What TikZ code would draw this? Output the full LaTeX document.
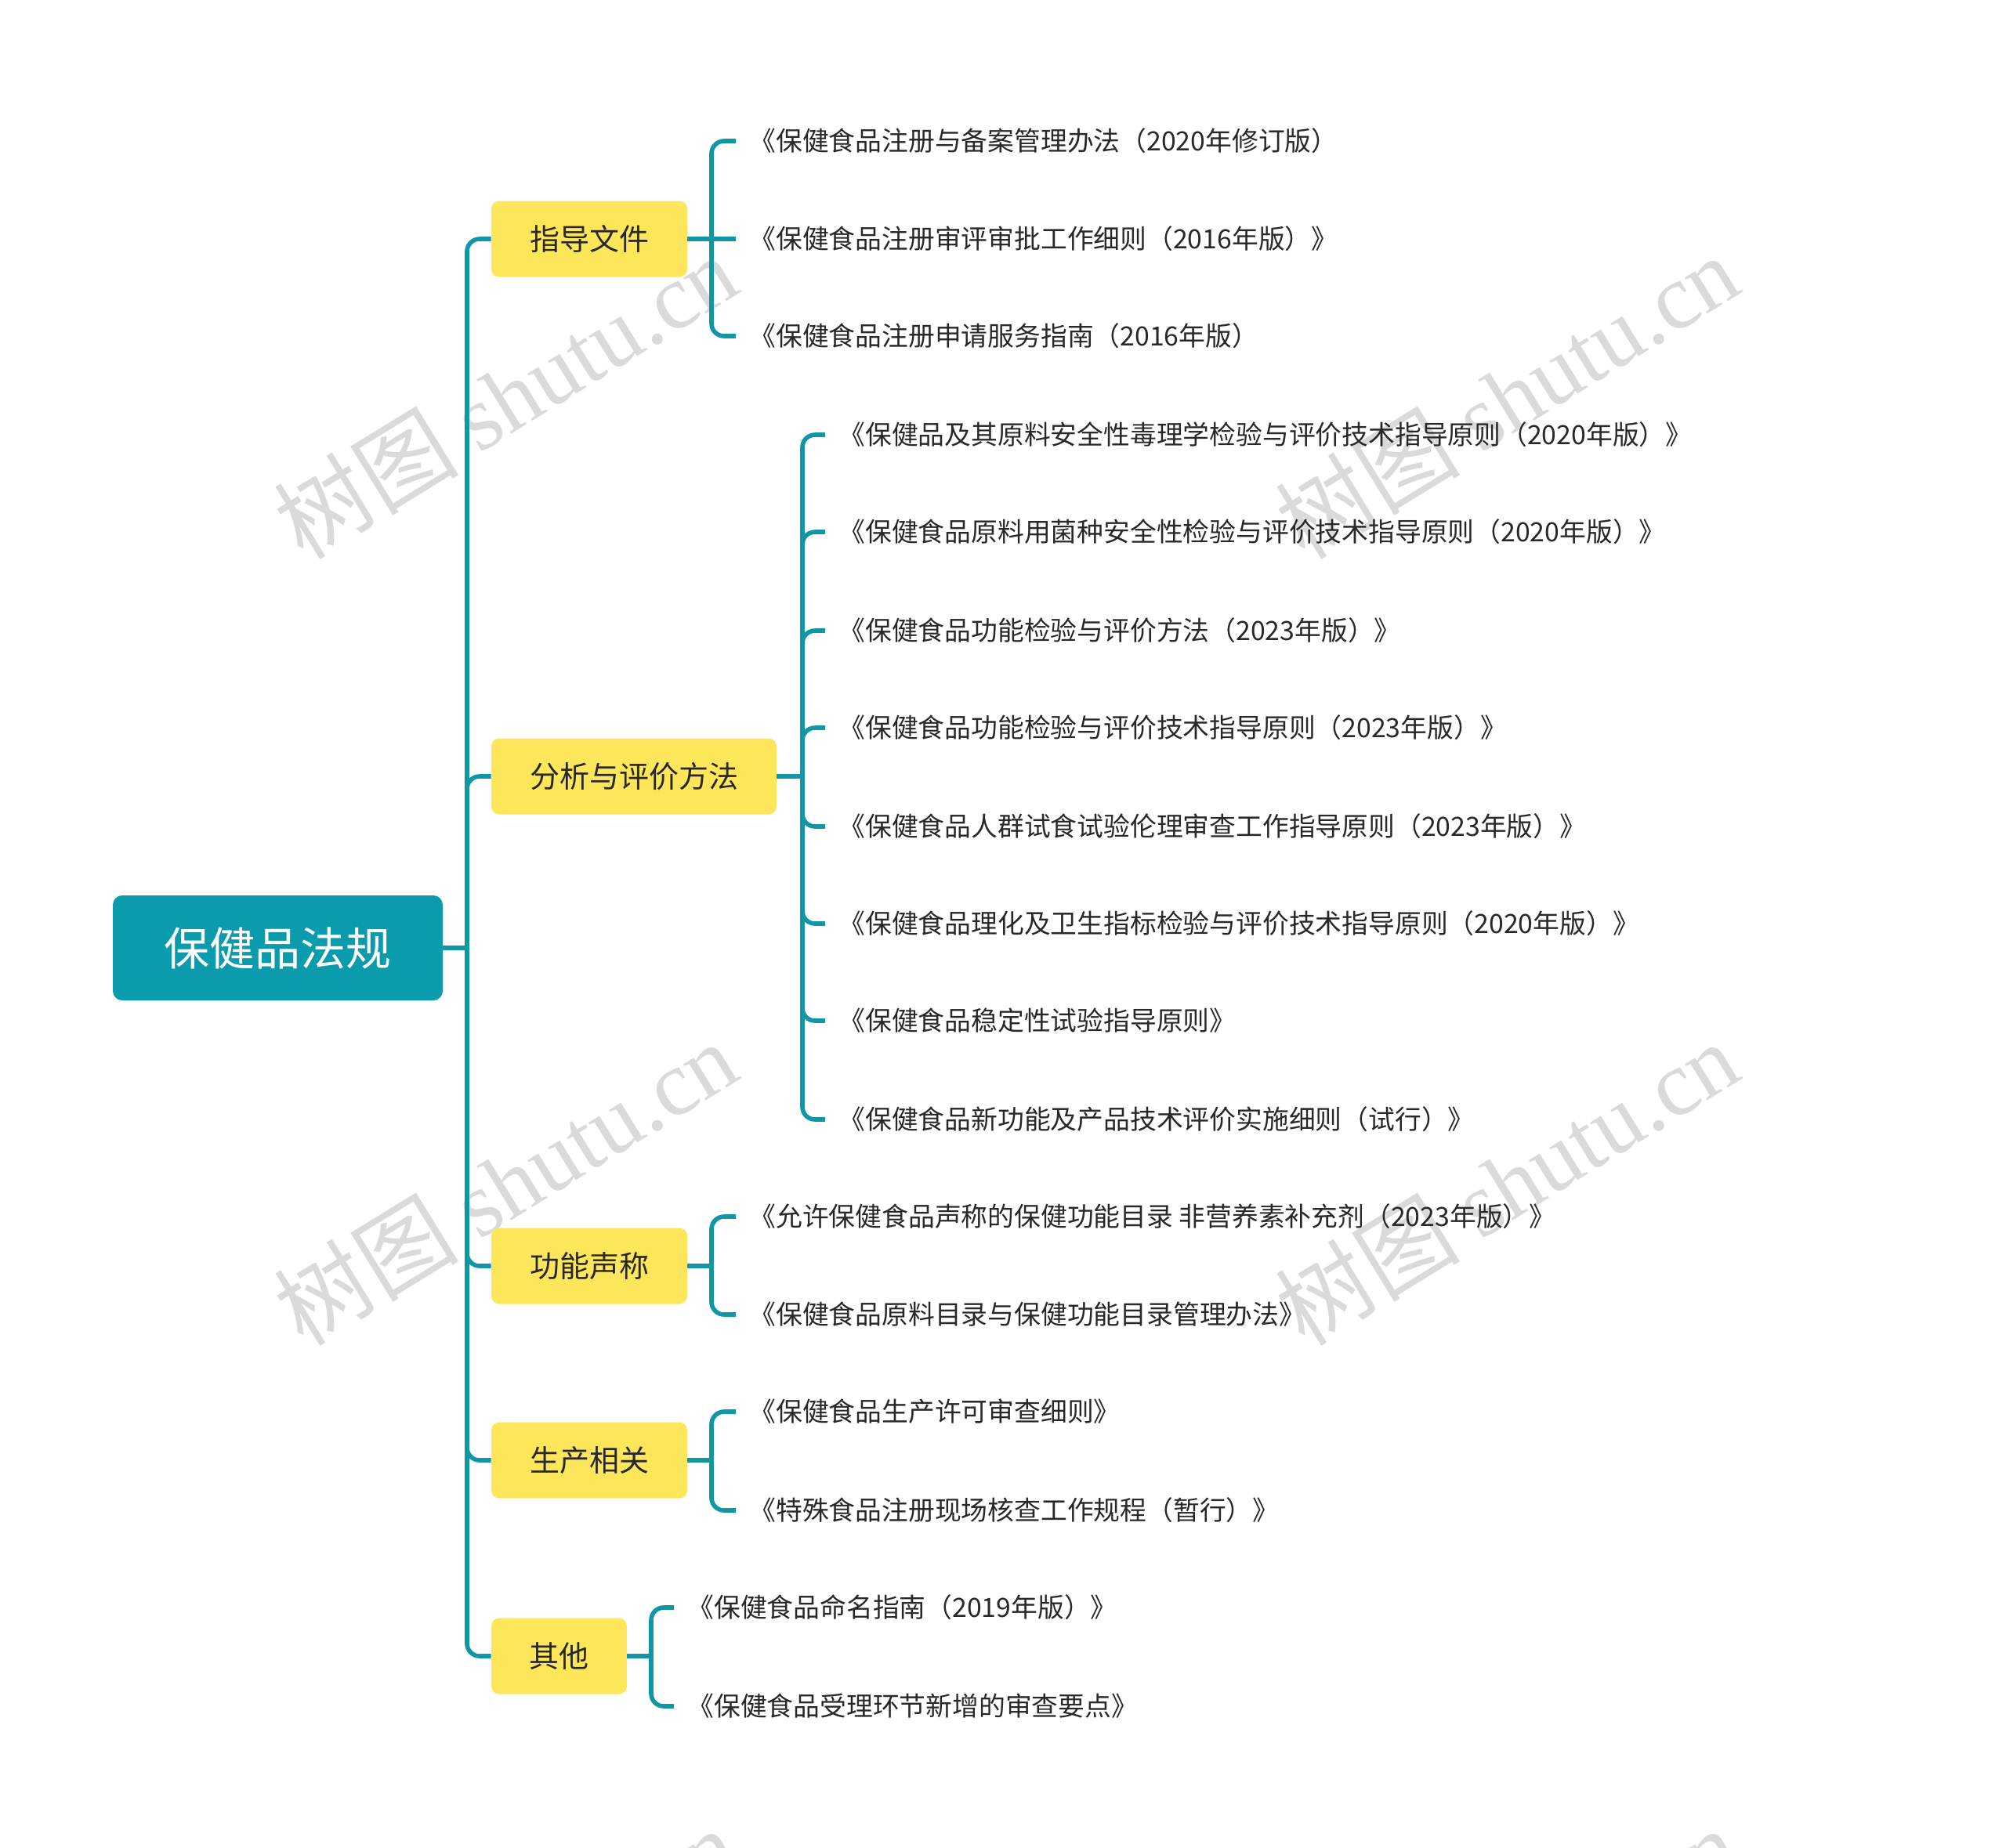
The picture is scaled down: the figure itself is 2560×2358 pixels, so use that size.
\documentclass[tikz,border=0pt]{standalone}
\usepackage{fontspec}
\setmainfont{Noto Sans CJK SC}
\newfontfamily\wmlatin{Liberation Serif}
\definecolor{rootfill}{RGB}{10,155,172}
\definecolor{linecol}{RGB}{16,150,165}
\definecolor{yel}{RGB}{254,230,90}
\definecolor{txt}{RGB}{40,40,40}
\definecolor{wm}{RGB}{218,218,218}
\begin{document}
\begin{tikzpicture}[x=0.5pt,y=-0.5pt,
 rootbox/.style={fill=rootfill, rounded corners=6pt, text=white, font=\fontsize{29}{29}\selectfont, minimum width=210.5pt, minimum height=67pt, inner sep=0pt},
 topicbox/.style={fill=yel, rounded corners=5pt, text=txt, font=\fontsize{19}{19}\selectfont, minimum height=48.5pt, inner sep=0pt},
 leaf/.style={anchor=west, text=txt, font=\fontsize{16.9}{16.9}\selectfont, inner xsep=8.5pt, inner ysep=0pt},
 conn/.style={draw=linecol, line width=2.8pt, rounded corners=8pt},
 wmark/.style={rotate=31.6, text=wm, font=\fontsize{59}{59}\selectfont, inner sep=0pt},
]
\useasboundingbox (0,0) rectangle (2560,2358);
% watermarks
\begin{scope}
\clip (0,0) rectangle (2560,2358);
\node[wmark] (w1) at (645,506) {树图 {\wmlatin shutu.cn}};
\node[wmark] (w2) at (1923,506) {树图 {\wmlatin shutu.cn}};
\node[wmark] (w3) at (645,1510) {树图 {\wmlatin shutu.cn}};
\node[wmark] (w4) at (1923,1510) {树图 {\wmlatin shutu.cn}};
\node[wmark] (w5) at (645,2514) {树图 {\wmlatin shutu.cn}};
\node[wmark] (w6) at (1923,2514) {树图 {\wmlatin shutu.cn}};
\end{scope}

% root
\node[rootbox] (root) at (354.5,1210) {保健品法规};

% topics
\node[topicbox, minimum width=125pt] (t1) at (752,305) {指导文件};
\node[topicbox, minimum width=182pt] (t2) at (809,991) {分析与评价方法};
\node[topicbox, minimum width=125pt] (t3) at (752,1616) {功能声称};
\node[topicbox, minimum width=125pt] (t4) at (752,1864) {生产相关};
\node[topicbox, minimum width=86.5pt] (t5) at (713.5,2114) {其他};

% leaves group 1
\node[leaf] (l11) at (939,180) {《保健食品注册与备案管理办法（2020年修订版）};
\node[leaf] (l12) at (939,305) {《保健食品注册审评审批工作细则（2016年版）》};
\node[leaf] (l13) at (939,429) {《保健食品注册申请服务指南（2016年版）};
% leaves group 2
\node[leaf] (l21) at (1053,555) {《保健品及其原料安全性毒理学检验与评价技术指导原则（2020年版）》};
\node[leaf] (l22) at (1053,679) {《保健食品原料用菌种安全性检验与评价技术指导原则（2020年版）》};
\node[leaf] (l23) at (1053,805) {《保健食品功能检验与评价方法（2023年版）》};
\node[leaf] (l24) at (1053,929) {《保健食品功能检验与评价技术指导原则（2023年版）》};
\node[leaf] (l25) at (1053,1055) {《保健食品人群试食试验伦理审查工作指导原则（2023年版）》};
\node[leaf] (l26) at (1053,1179) {《保健食品理化及卫生指标检验与评价技术指导原则（2020年版）》};
\node[leaf] (l27) at (1053,1303) {《保健食品稳定性试验指导原则》};
\node[leaf] (l28) at (1053,1429) {《保健食品新功能及产品技术评价实施细则（试行）》};
% leaves group 3
\node[leaf] (l31) at (939,1553) {《允许保健食品声称的保健功能目录 非营养素补充剂（2023年版）》};
\node[leaf] (l32) at (939,1678) {《保健食品原料目录与保健功能目录管理办法》};
% leaves group 4
\node[leaf] (l41) at (939,1802) {《保健食品生产许可审查细则》};
\node[leaf] (l42) at (939,1928) {《特殊食品注册现场核查工作规程（暂行）》};
% leaves group 5
\node[leaf] (l51) at (860,2052) {《保健食品命名指南（2019年版）》};
\node[leaf] (l52) at (860,2178) {《保健食品受理环节新增的审查要点》};

% junctions
\coordinate (j0) at (596,1210);
\coordinate (j1) at (908,305);
\coordinate (j2) at (1024,991);
\coordinate (j3) at (908,1616);
\coordinate (j4) at (908,1864);
\coordinate (j5) at (831,2114);

% root to topics
\draw[conn] (root.east) -- (j0);
\foreach \t in {t1,t2,t3,t4,t5} \draw[conn] (j0) |- (\t.west);

% topics to leaves
\draw[conn] (t1.east) -- (j1);
\draw[conn] (j1) |- (l11.west);
\draw[conn] (j1) -- (l12.west);
\draw[conn] (j1) |- (l13.west);

\draw[conn] (t2.east) -- (j2);
\foreach \l in {l21,l22,l23,l24,l25,l26,l27,l28} \draw[conn] (j2) |- (\l.west);

\draw[conn] (t3.east) -- (j3);
\draw[conn] (j3) |- (l31.west);
\draw[conn] (j3) |- (l32.west);

\draw[conn] (t4.east) -- (j4);
\draw[conn] (j4) |- (l41.west);
\draw[conn] (j4) |- (l42.west);

\draw[conn] (t5.east) -- (j5);
\draw[conn] (j5) |- (l51.west);
\draw[conn] (j5) |- (l52.west);
\end{tikzpicture}
\end{document}
